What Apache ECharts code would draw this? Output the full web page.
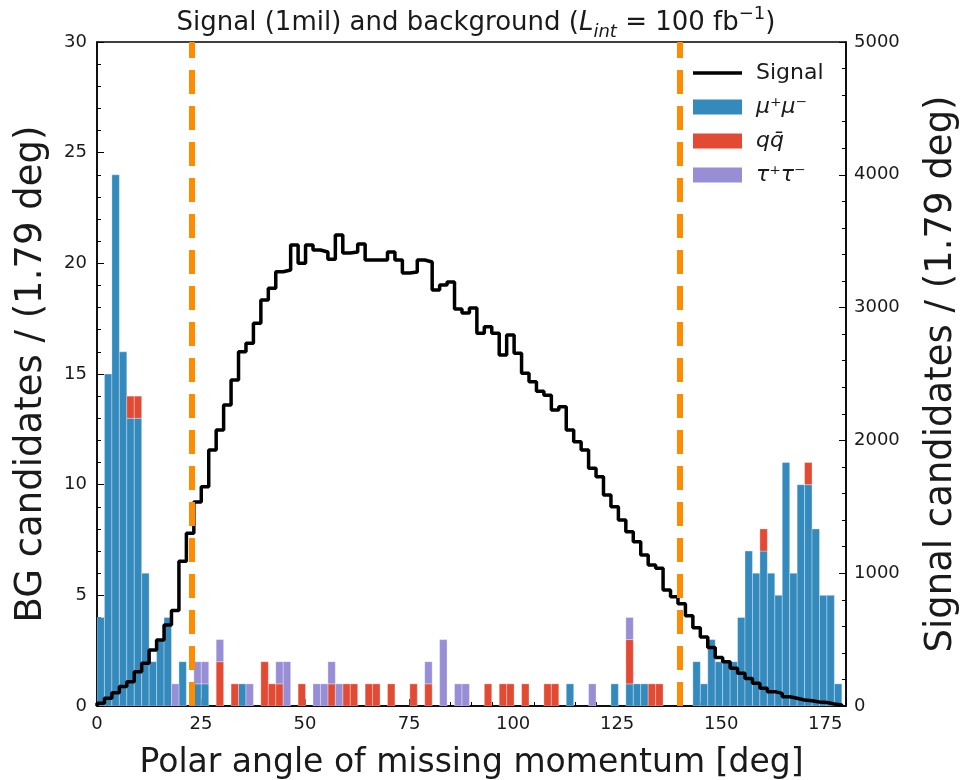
<!DOCTYPE html>
<html><head><meta charset="utf-8">
<script src="https://cdn.jsdelivr.net/npm/echarts@6/dist/echarts.min.js"></script>
<style>html,body{margin:0;padding:0;background:#fff}#c{width:964px;height:780px}</style>
</head><body><div id="c"></div>
<script>
// ---- data (100 bins of 1.79 deg starting at 0) ----
const binWidth = 1.79;
const mumu = [4,15,24,16,13,13,6,2,3,4, 0,2,0,1,1,0,0,0,0,1, 0,0,0,0,0,0,0,0,0,0, 0,0,0,0,0,0,0,0,0,0,
  0,0,0,0,0,0,0,0,0,0, 0,0,0,0,0,0,0,0,0,0, 0,0,0,1,0,0,0,0,0,1, 0,1,1,1,0,0,0,0,0,0,
  2,1,3,2,2,2,4,7,6,7, 6,5,11,6,10,10,8,5,5,1];
const qqbar = [0,0,0,0,1,1,0,0,0,0, 0,0,0,0,0,0,2,0,1,0, 0,0,2,1,1,0,0,1,0,0, 0,1,0,1,1,0,1,1,0,1,
  0,0,1,0,1,0,0,0,0,0, 0,0,1,0,1,1,0,1,0,0, 1,1,0,0,0,0,0,0,0,0, 0,2,0,0,1,1,0,0,0,0,
  0,0,0,0,0,0,0,0,0,1, 0,0,0,0,0,1,0,0,0,0];
const tautau = [0,0,0,0,0,0,0,0,0,0, 1,0,0,1,1,0,1,0,0,0, 1,0,0,0,1,2,0,0,0,1, 1,1,1,0,0,0,0,0,0,0,
  0,0,0,0,1,0,3,0,1,1, 0,0,0,0,0,0,0,0,0,0, 0,0,0,0,0,0,1,0,0,0, 0,1,0,0,0,0,0,0,0,0,
  0,0,0,0,0,0,0,0,0,0, 0,0,0,0,0,0,0,0,0,0];
const signal = [20,58,100,146,183,258,321,422,497,610, 720,1090,1300,1536,1651,1928,2078,2267,2455,2668,
  2731,2882,3057,3145,3270,3283,3471,3334,3471,3434, 3419,3364,3547,3411,3419,3479,3358,3358,3358,3419,
  3358,3260,3268,3358,3343,3133,3170,3192,2989,2959, 2997,2806,2856,2806,2643,2794,2656,2505,2442,2370,
  2340,2229,2254,2078,1990,1928,1790,1727,1589,1501, 1401,1313,1237,1137,1062,1037,873,823,770,680,
  590,520,440,365,334,284,246,208,171,133, 108,95,70,58,45,40,30,27,15,8];
const cutLines = [22.8, 140];
const colors = {mumu:'#348ABD', qq:'#E24A33', tau:'#988ED5', signal:'#000000', cut:'#FF8C00'};

// ---- build stacked rectangles ----
function stackItems(vals, bases){
  const out = [];
  vals.forEach((v,i)=>{
    const b = bases[i];
    out.push([i*binWidth, (i+1)*binWidth, b, b+v]);
    bases[i] = b+v;
  });
  return out;
}
const bases = new Array(mumu.length).fill(0);
const mumuItems = stackItems(mumu, bases);
const qqItems = stackItems(qqbar, bases);
const tauItems = stackItems(tautau, bases);

const stepData = [[0,0]];
signal.forEach((v,i)=>stepData.push([i*binWidth, v]));
stepData.push([signal.length*binWidth, signal[signal.length-1]]);
stepData.push([signal.length*binWidth, 0]);

function barRenderer(color){
  return function(params, api){
    const x0=api.value(0), x1=api.value(1), y0=api.value(2), y1=api.value(3);
    if (y1<=y0) return null;
    const p0=api.coord([x0,y0]), p1=api.coord([x1,y1]);
    return {type:'rect', shape:{x:p0[0], y:p1[1], width:p1[0]-p0[0], height:p0[1]-p1[1]},
      style:{fill:color, stroke:'rgba(255,255,255,0.45)', lineWidth:0.7}};
  };
}

const FONT = 'DejaVu Sans';
const TXT = '#1a1a1a';
const chart = echarts.init(document.getElementById('c'), null, {renderer:'canvas'});
chart.setOption({
  animation:false,
  textStyle:{fontFamily:FONT},
  title:{
    text:'Signal (1mil) and background ({it|L}{sub|int}{n| = 100 fb}{sup|−1}{n|)}',
    left:471, top:0, textAlign:'center',
    textStyle:{fontFamily:FONT, fontSize:26, fontWeight:'normal', color:TXT, lineHeight:36,
      rich:{
        n:{fontFamily:FONT, fontSize:26, color:TXT, lineHeight:36},
        it:{fontFamily:FONT, fontSize:26, fontStyle:'italic', color:TXT, lineHeight:36},
        sub:{fontFamily:FONT, fontSize:18, fontStyle:'italic', color:TXT, lineHeight:18, verticalAlign:'bottom'},
        sup:{fontFamily:FONT, fontSize:18, color:TXT, lineHeight:18, verticalAlign:'top'}
      }}
  },
  grid:{left:97, right:118, top:42, bottom:74, containLabel:false, outerBoundsMode:'none',
    show:true, borderColor:'#000', borderWidth:1.5, backgroundColor:'transparent'},
  legend:{
    orient:'vertical', left:693, top:62, padding:0, itemWidth:49, itemHeight:15, itemGap:12,
    data:[
      {name:'Signal', icon:'path://M0,0L50,0L50,3.6L0,3.6Z'},
      {name:'mumu', icon:'rect'},
      {name:'qq', icon:'rect'},
      {name:'tautau', icon:'rect'}
    ],
    formatter:function(n){
      if(n==='Signal') return '{a|Signal}';
      if(n==='mumu') return '{m|μ⁺μ⁻}';
      if(n==='qq') return '{m|qq̄}';
      return '{m|τ⁺τ⁻}';
    },
    textStyle:{fontFamily:FONT, fontSize:22, color:TXT,
      rich:{a:{fontFamily:FONT, fontSize:22, color:TXT, lineHeight:23, padding:[0,0,0,9]},
            m:{fontFamily:FONT, fontSize:22, fontStyle:'italic', color:TXT, lineHeight:23, padding:[0,0,0,9]}}}
  },
  xAxis:{
    type:'value', min:0, max:180, interval:25,
    name:'Polar angle of missing momentum [deg]', nameLocation:'middle', nameGap:41,
    nameTextStyle:{fontFamily:FONT, fontSize:33, color:TXT},
    axisLine:{show:true, lineStyle:{color:'#000', width:1.5}},
    axisTick:{show:true, inside:true, length:7, lineStyle:{color:'#000', width:1}},
    minorTick:{show:true, splitNumber:5, length:4, lineStyle:{color:'#000', width:1}},
    axisLabel:{fontFamily:FONT, fontSize:18, color:TXT, margin:9, showMaxLabel:false},
    splitLine:{show:false}
  },
  yAxis:[{
    type:'value', min:0, max:30, interval:5, position:'left',
    name:'BG candidates / (1.79 deg)', nameLocation:'middle', nameGap:47, nameRotate:90,
    nameTextStyle:{fontFamily:FONT, fontSize:37, color:TXT},
    axisLine:{show:true, lineStyle:{color:'#000', width:1.5}},
    axisTick:{show:true, inside:true, length:7, lineStyle:{color:'#000', width:1}},
    minorTick:{show:true, splitNumber:5, length:4, lineStyle:{color:'#000', width:1}},
    axisLabel:{fontFamily:FONT, fontSize:18, color:TXT, margin:10},
    splitLine:{show:false}
  },{
    type:'value', min:0, max:5000, interval:1000, position:'right',
    name:'Signal candidates / (1.79 deg)', nameLocation:'middle', nameGap:77, nameRotate:90,
    nameTextStyle:{fontFamily:FONT, fontSize:37, color:TXT},
    axisLine:{show:true, lineStyle:{color:'#000', width:1.5}},
    axisTick:{show:true, inside:true, length:7, lineStyle:{color:'#000', width:1}},
    minorTick:{show:true, splitNumber:5, length:4, lineStyle:{color:'#000', width:1}},
    axisLabel:{fontFamily:FONT, fontSize:18, color:TXT, margin:8, formatter:v=>String(v)},
    splitLine:{show:false}
  }],
  series:[
    {name:'mumu', type:'custom', yAxisIndex:0, clip:true, renderItem:barRenderer(colors.mumu),
      itemStyle:{color:colors.mumu}, encode:{x:[0,1], y:[2,3]}, data:mumuItems, z:2},
    {name:'qq', type:'custom', yAxisIndex:0, clip:true, renderItem:barRenderer(colors.qq),
      itemStyle:{color:colors.qq}, encode:{x:[0,1], y:[2,3]}, data:qqItems, z:2},
    {name:'tautau', type:'custom', yAxisIndex:0, clip:true, renderItem:barRenderer(colors.tau),
      itemStyle:{color:colors.tau}, encode:{x:[0,1], y:[2,3]}, data:tauItems, z:2},
    {name:'Signal', type:'line', yAxisIndex:1, step:'end', symbol:'none', showSymbol:false,
      data:stepData, lineStyle:{color:'#000', width:3.5}, itemStyle:{color:'#000'}, z:4},
    {name:'cuts', type:'line', yAxisIndex:0, data:[], z:6,
      markLine:{silent:true, symbol:'none', label:{show:false}, z:6,
        lineStyle:{color:colors.cut, width:6, type:[24,12]},
        data:cutLines.map(v=>({xAxis:v}))}}
  ]
});
</script>
</body></html>
